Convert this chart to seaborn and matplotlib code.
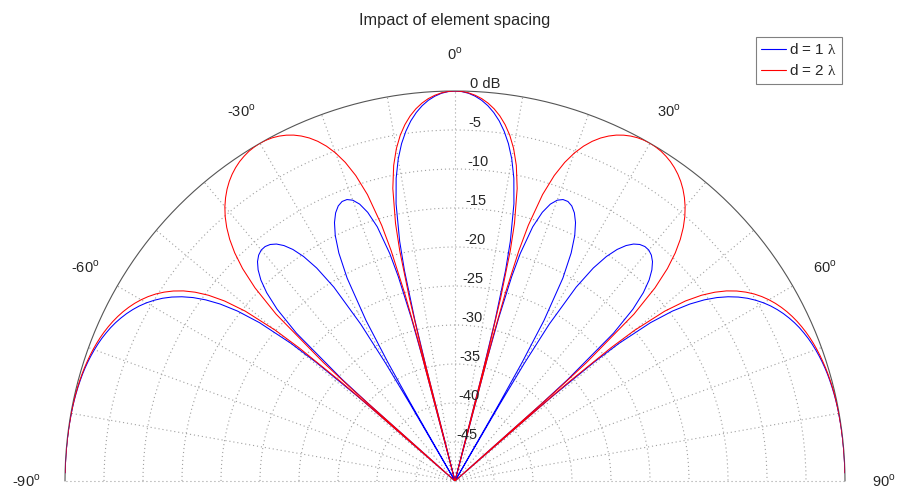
import numpy as np
import pandas as pd
import seaborn as sns
import matplotlib
matplotlib.use("Agg")
import matplotlib.pyplot as plt
from matplotlib.lines import Line2D

sns.set_style("white")
plt.rcParams["font.family"] = ["Liberation Sans", "DejaVu Sans"]
plt.rcParams["mathtext.fontset"] = "custom"
plt.rcParams["mathtext.rm"] = "Liberation Serif"
plt.rcParams["mathtext.sf"] = "Liberation Sans"

# Array factor in dB versus angle off broadside (one side; the pattern is symmetric)
angle_deg = [0, 1, 2, 3, 4, 5, 6, 7, 8, 9, 10, 11, 12, 13, 13.5, 14, 14.25, 14.48,
             14.75, 15, 15.5, 16, 17, 18, 19, 20, 21, 22, 23, 24, 25, 26, 27, 28, 29,
             29.5, 29.75, 30, 30.25, 30.5, 31, 32, 33, 34, 35, 36, 37, 38, 39, 40, 41,
             42, 43, 44, 45, 46, 47, 48, 48.25, 48.59, 48.9, 49, 49.5, 50, 51, 52, 53,
             54, 55, 56, 57, 58, 59, 60, 61, 62, 63, 64, 65, 66, 67, 68, 69, 70, 71,
             72, 73, 74, 75, 76, 77, 78, 79, 80, 82, 84, 86, 88, 88.8]

level_d1 = [0, -0.07, -0.26, -0.60, -1.07, -1.70, -2.50, -3.49, -4.72, -6.21, -8.08,
            -10.46, -13.66, -18.47, -22.25, -28.69, -35.24, -50, -33.91, -28.39, -22.83,
            -19.67, -15.93, -13.78, -12.46, -11.69, -11.35, -11.35, -11.69, -12.37,
            -13.44, -14.98, -17.20, -20.54, -26.47, -32.48, -38.50, -50, -38.53, -32.52,
            -26.55, -20.70, -17.44, -15.28, -13.76, -12.69, -11.96, -11.52, -11.32,
            -11.35, -11.63, -12.16, -12.99, -14.17, -15.85, -18.29, -22.19, -30.52,
            -35.26, -50, -35.91, -33.46, -26.44, -22.54, -17.74, -14.61, -12.30, -10.49,
            -9.00, -7.76, -6.70, -5.79, -5.01, -4.32, -3.72, -3.20, -2.74, -2.34, -1.98,
            -1.67, -1.41, -1.17, -0.97, -0.80, -0.65, -0.52, -0.41, -0.32, -0.25, -0.19,
            -0.14, -0.10, -0.07, -0.05, -0.02, -0.01, 0, 0, 0]

level_d2 = [0, -0.05, -0.21, -0.48, -0.86, -1.37, -2.02, -2.84, -3.86, -5.12, -6.72,
            -8.79, -11.66, -16.10, -19.67, -25.90, -32.33, -50, -30.78, -25.13, -19.32,
            -15.90, -11.60, -8.82, -6.80, -5.25, -4.02, -3.03, -2.23, -1.59, -1.07,
            -0.67, -0.37, -0.16, -0.04, -0.01, 0, 0, 0, -0.01, -0.04, -0.15, -0.35,
            -0.61, -0.96, -1.39, -1.91, -2.53, -3.26, -4.10, -5.09, -6.26, -7.65, -9.35,
            -11.49, -14.36, -18.64, -27.32, -32.14, -50, -33.00, -30.57, -23.70, -19.94,
            -15.40, -12.52, -10.43, -8.82, -7.51, -6.44, -5.54, -4.76, -4.10, -3.53,
            -3.03, -2.60, -2.22, -1.89, -1.60, -1.35, -1.13, -0.94, -0.78, -0.64, -0.52,
            -0.42, -0.33, -0.26, -0.20, -0.15, -0.11, -0.08, -0.06, -0.04, -0.02, -0.01,
            0, 0, 0]

series_labels = [r"d = 1 $\mathrm{\lambda}$", r"d = 2 $\mathrm{\lambda}$"]
series_colors = ["#0000ff", "#ff0000"]
angle_ticks = [-90, -60, -30, 0, 30, 60, 90]
ring_levels = [-45, -40, -35, -30, -25, -20, -15, -10, -5]
floor_db = -50


def full_sweep(values):
    v = np.asarray(values, dtype=float)
    return np.concatenate([v[::-1], v[1:]])


half = np.asarray(angle_deg, dtype=float)
theta_full = np.deg2rad(np.concatenate([-half[::-1], half[1:]]))

frames = []
for lab, lev in zip(series_labels, [level_d1, level_d2]):
    frames.append(pd.DataFrame({"theta": theta_full,
                                "level": full_sweep(lev),
                                "spacing": lab}))
df = pd.concat(frames, ignore_index=True)

W, H = 905, 493
fig = plt.figure(figsize=(W / 100, H / 100), dpi=100)
fig.patch.set_facecolor("white")
# square box whose half-disk lands with its centre at (455, 481) px, radius 390 px
side = 780
cx, cy_mid = 455, 286
ax = fig.add_axes([(cx - side / 2) / W, (H - (cy_mid + side / 2)) / H,
                   side / W, side / H], projection="polar")
ax.set_theta_zero_location("N")
ax.set_theta_direction(-1)
ax.set_thetamin(-90)
ax.set_thetamax(90)
ax.set_frame_on(False)
for sp in ax.spines.values():
    sp.set_visible(False)

grid_color = "#a0a0a0"
dots = (0, (1, 2.6))

# grid: spokes every 10 deg (the +/-90 spokes form the dotted base line) and 5 dB rings
ax.set_thetagrids(np.arange(-80, 81, 10), labels=[])
ax.set_rgrids(ring_levels, labels=[])
ax.grid(True, color=grid_color, linestyle=dots, linewidth=0.8)
ax.tick_params(length=0)
for side_ang in (-np.pi / 2, np.pi / 2):
    ax.plot([side_ang, side_ang], [floor_db, 0], color=grid_color, linestyle=dots,
            linewidth=0.8, clip_on=False, zorder=1)

# outer rim at 0 dB
rim = np.linspace(-np.pi / 2, np.pi / 2, 361)
ax.plot(rim, np.zeros_like(rim), color="#555555", linewidth=0.8, clip_on=False,
        zorder=1)

sns.lineplot(data=df, x="theta", y="level", hue="spacing",
             palette=dict(zip(series_labels, series_colors)),
             sort=False, estimator=None, linewidth=0.75, legend=False, ax=ax,
             zorder=3)

ax.set_rlim(floor_db, 0)
ax.set_xlabel("")
ax.set_ylabel("")

# angle labels outside the rim
for a in angle_ticks:
    r_lab = 5.0 if abs(a) == 90 else 4.75
    ax.text(np.deg2rad(a), r_lab, f"{a}" + r"$^{\mathsf{o}}$", ha="center",
            va="center", fontsize=10.5, clip_on=False)

# level labels along the boresight
for v in ring_levels + [0]:
    txt = "0 dB" if v == 0 else f"{v}"
    ax.text(np.deg2rad(2.2), v, txt, ha="left", va="bottom", fontsize=10.5,
            clip_on=False, zorder=4)

handles = [Line2D([], [], color=c, linewidth=0.8) for c in series_colors]
leg = fig.legend(handles, series_labels, loc="upper right",
                 bbox_to_anchor=(842 / W, 1 - 37 / H),
                 bbox_transform=fig.transFigure, frameon=True, fancybox=False,
                 edgecolor="#808080", framealpha=1, borderaxespad=0,
                 handlelength=1.6, handletextpad=0.2, borderpad=0.35,
                 labelspacing=0.4, fontsize=11)
leg.get_frame().set_linewidth(0.8)

fig.text(455 / W, 1 - 20 / H, "Impact of element spacing", ha="center",
         va="center", fontsize=11.8)

fig.savefig("out.png", dpi=100, facecolor="white")
